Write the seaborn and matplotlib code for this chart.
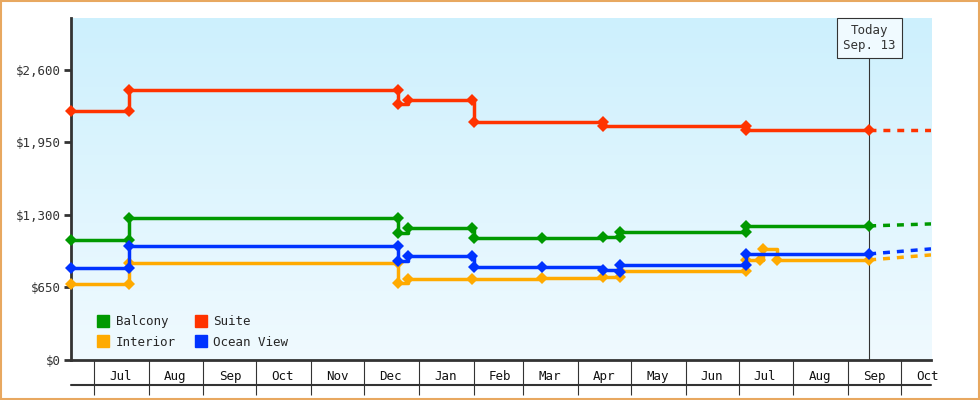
import matplotlib
matplotlib.use("Agg")
import matplotlib.pyplot as plt
import matplotlib.dates as mdates
from matplotlib.lines import Line2D
import numpy as np
import pandas as pd
import seaborn as sns

# price history, step changes (date, price)
balcony_dates = ["2024-06-18", "2024-07-21", "2024-07-21", "2024-12-20", "2024-12-20", "2024-12-26",
                 "2025-01-31", "2025-02-01", "2025-03-12", "2025-04-15", "2025-04-25", "2025-04-25",
                 "2025-07-05", "2025-07-05", "2025-09-13"]
balcony_prices = [1076, 1076, 1273, 1273, 1139, 1184, 1184, 1094, 1094, 1103, 1103, 1148, 1148, 1202, 1202]

suite_dates = ["2024-06-18", "2024-07-21", "2024-07-21", "2024-12-20", "2024-12-20", "2024-12-26",
               "2025-01-31", "2025-02-01", "2025-04-15", "2025-04-15", "2025-07-05", "2025-07-05",
               "2025-09-13"]
suite_prices = [2233, 2233, 2421, 2421, 2296, 2332, 2332, 2134, 2134, 2098, 2098, 2063, 2063]

ocean_dates = ["2024-06-18", "2024-07-21", "2024-07-21", "2024-12-20", "2024-12-20", "2024-12-26",
               "2025-01-31", "2025-02-01", "2025-03-12", "2025-04-15", "2025-04-25", "2025-04-25",
               "2025-07-05", "2025-07-05", "2025-09-13"]
ocean_prices = [825, 825, 1022, 1022, 888, 933, 933, 834, 834, 807, 790, 852, 852, 951, 951]

interior_dates = ["2024-06-18", "2024-07-21", "2024-07-21", "2024-12-20", "2024-12-20", "2024-12-26",
                  "2025-01-31", "2025-03-12", "2025-04-15", "2025-04-25", "2025-04-25", "2025-07-05",
                  "2025-07-05", "2025-07-13", "2025-07-15", "2025-07-23", "2025-09-13"]
interior_prices = [682, 682, 870, 870, 691, 726, 726, 735, 745, 745, 798, 798,
                   897, 897, 996, 897, 897]

# projected end values (Oct 18)
projection = {"Balcony": 1220, "Suite": 2063, "Ocean View": 996, "Interior": 942}

colors = {"Balcony": "#009900", "Suite": "#ff3300", "Interior": "#ffaa00", "Ocean View": "#0033ff"}
month_labels = ["Jul", "Aug", "Sep", "Oct", "Nov", "Dec", "Jan", "Feb", "Mar", "Apr",
                "May", "Jun", "Jul", "Aug", "Sep", "Oct"]

frames = []
for name, d, p in [("Balcony", balcony_dates, balcony_prices), ("Suite", suite_dates, suite_prices),
                   ("Interior", interior_dates, interior_prices), ("Ocean View", ocean_dates, ocean_prices)]:
    frames.append(pd.DataFrame({"date": pd.to_datetime(d), "price": p, "cabin": name}))
df = pd.concat(frames)

today = pd.Timestamp("2025-09-13")
x0, x1 = pd.Timestamp("2024-06-18"), pd.Timestamp("2025-10-18")

sns.set_style("white")
plt.rcParams["font.family"] = ["DejaVu Sans Mono"]
fig = plt.figure(figsize=(9.8, 4), dpi=100)
fig.patches.append(plt.Rectangle((0.001, 0.002), 0.998, 0.996, transform=fig.transFigure,
                                 fill=False, edgecolor="#e8a860", linewidth=1.5))
ax = fig.add_axes([0.0724, 0.1, 0.8776, 0.855])

# gradient background
grad = np.linspace(0, 1, 256).reshape(-1, 1)
cmap = matplotlib.colors.LinearSegmentedColormap.from_list("bg", ["#cdf0fd", "#f0faff"])
ax.imshow(grad, extent=[mdates.date2num(x0), mdates.date2num(x1), 0, 3066],
          aspect="auto", cmap=cmap, zorder=0)

for name in ["Balcony", "Suite", "Interior", "Ocean View"]:
    sub = df[df.cabin == name]
    sns.lineplot(data=sub, x="date", y="price", estimator=None, sort=False, ax=ax,
                 color=colors[name], linewidth=2.5, drawstyle="steps-post",
                 marker="D", markersize=6, markeredgewidth=0, zorder=3, clip_on=False)
    last = sub.price.iloc[-1]
    ax.plot([today, x1], [last, projection[name]], color=colors[name], linewidth=2.5,
            linestyle=(0, (2, 2)), zorder=3)

ax.axvline(today, color="#333333", linewidth=0.8, zorder=2)
ax.text(today, 3010, "Today\nSep. 13", ha="center", va="top", fontsize=9, color="#333333",
        bbox=dict(boxstyle="square,pad=0.5", facecolor="#f0faff", edgecolor="#333333", linewidth=0.8),
        zorder=5)

ax.set_xlim(x0, x1)
ax.set_ylim(0, 3066)
ax.set_yticks([0, 650, 1300, 1950, 2600])
ax.set_yticklabels(["$0", "$650", "$1,300", "$1,950", "$2,600"], fontsize=9, color="#333333")
ax.tick_params(axis="y", left=True, length=5, width=2, color="#333333", pad=2)

# month cells on the x axis
bounds = pd.date_range("2024-07-01", "2025-10-01", freq="MS")
mids = [b + pd.Timedelta(days=15) for b in bounds]
ax.set_xticks(bounds)
ax.set_xticklabels([])
ax.tick_params(axis="x", which="major", bottom=True, length=25, width=0.8, color="#333333")
ax.set_xticks(mids, minor=True)
ax.set_xticklabels(month_labels, minor=True, fontsize=9, color="#111111")
ax.tick_params(axis="x", which="minor", bottom=True, length=0, pad=7)
ax.plot([0, 1], [-25 / 342, -25 / 342], transform=ax.transAxes, color="#333333",
        linewidth=1.5, clip_on=False)

ax.set_xlabel("")
ax.set_ylabel("")
for s in ["top", "right"]:
    ax.spines[s].set_visible(False)
ax.spines["left"].set_color("#333333")
ax.spines["left"].set_linewidth(2)
ax.spines["bottom"].set_color("#333333")
ax.spines["bottom"].set_linewidth(2)

handles = [Line2D([], [], marker="s", linestyle="", color=colors[n], markersize=8)
           for n in ["Balcony", "Interior", "Suite", "Ocean View"]]
ax.legend(handles, ["Balcony", "Interior", "Suite", "Ocean View"], ncol=2, loc="lower left",
          bbox_to_anchor=(0.01, 0.0), frameon=False, fontsize=9, handletextpad=0.0,
          columnspacing=1.0, labelspacing=0.6)

fig.savefig("out.png", dpi=100)
